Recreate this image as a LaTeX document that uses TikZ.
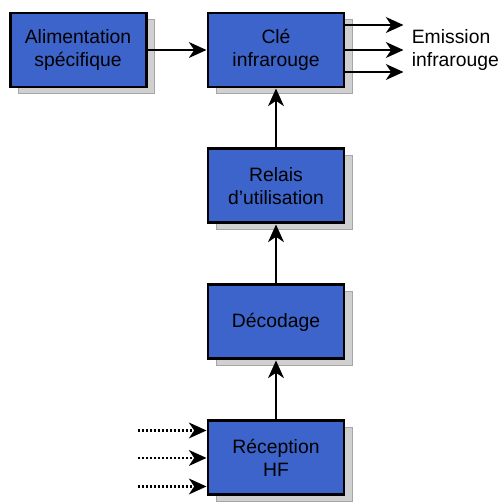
\documentclass[tikz,border=0pt]{standalone}
\usepackage{fontspec}
\setmainfont{Liberation Sans}
\usetikzlibrary{arrows.meta,positioning,shadows}
\definecolor{bleubloc}{RGB}{60,100,202}
\definecolor{grisombre}{RGB}{208,208,208}

\begin{document}
\begin{tikzpicture}[font=\fontsize{11}{13}\selectfont, node distance=1.18cm,
    bloc/.style={draw=black, line width=1.7pt, fill=bleubloc, align=center,
              minimum width=2.72cm, minimum height=1.48cm, inner sep=2pt,
              drop shadow={shadow xshift=0.16cm, shadow yshift=-0.12cm,
                           fill=grisombre, draw=gray!70, line width=0.5pt, opacity=1}},
    fl/.style={-{Stealth[length=10pt,width=9pt,inset=3pt]}, line width=1.3pt},
    fldot/.style={fl, dash pattern=on 1.2pt off 1.1pt}]
\useasboundingbox (0,0) rectangle (10,-10.04);
\node[bloc] (cle) at (5.52,-1.0) {Clé\\infrarouge};
\node[bloc, left=of cle] (alim) {Alimentation\\spécifique};
\node[bloc, below=of cle] (relais) {Relais\\d'utilisation};
\node[bloc, below=of relais] (decod) {Décodage};
\node[bloc, below=of decod] (recep) {Réception\\HF};
\node[align=left, inner sep=0pt, right=1.32cm of cle] (emis) {Emission\\infrarouge};
\draw[fl] (alim) -- (cle);
\draw[fl] (relais) -- (cle);
\draw[fl] (decod) -- (relais);
\draw[fl] (recep) -- (decod);
\foreach \dy [count=\i] in {0.5,0,-0.44} {
  \coordinate (sortie\i) at ([xshift=1.16cm, yshift=\dy cm]cle.east);
  \draw[fl] ([yshift=\dy cm]cle.east) -- (sortie\i);
}
\foreach \dy [count=\i] in {0.55,0,-0.57} {
  \coordinate (entree\i) at ([xshift=-1.38cm, yshift=\dy cm]recep.west);
  \draw[fldot] (entree\i) -- ([yshift=\dy cm]recep.west);
}
\end{tikzpicture}
\end{document}
